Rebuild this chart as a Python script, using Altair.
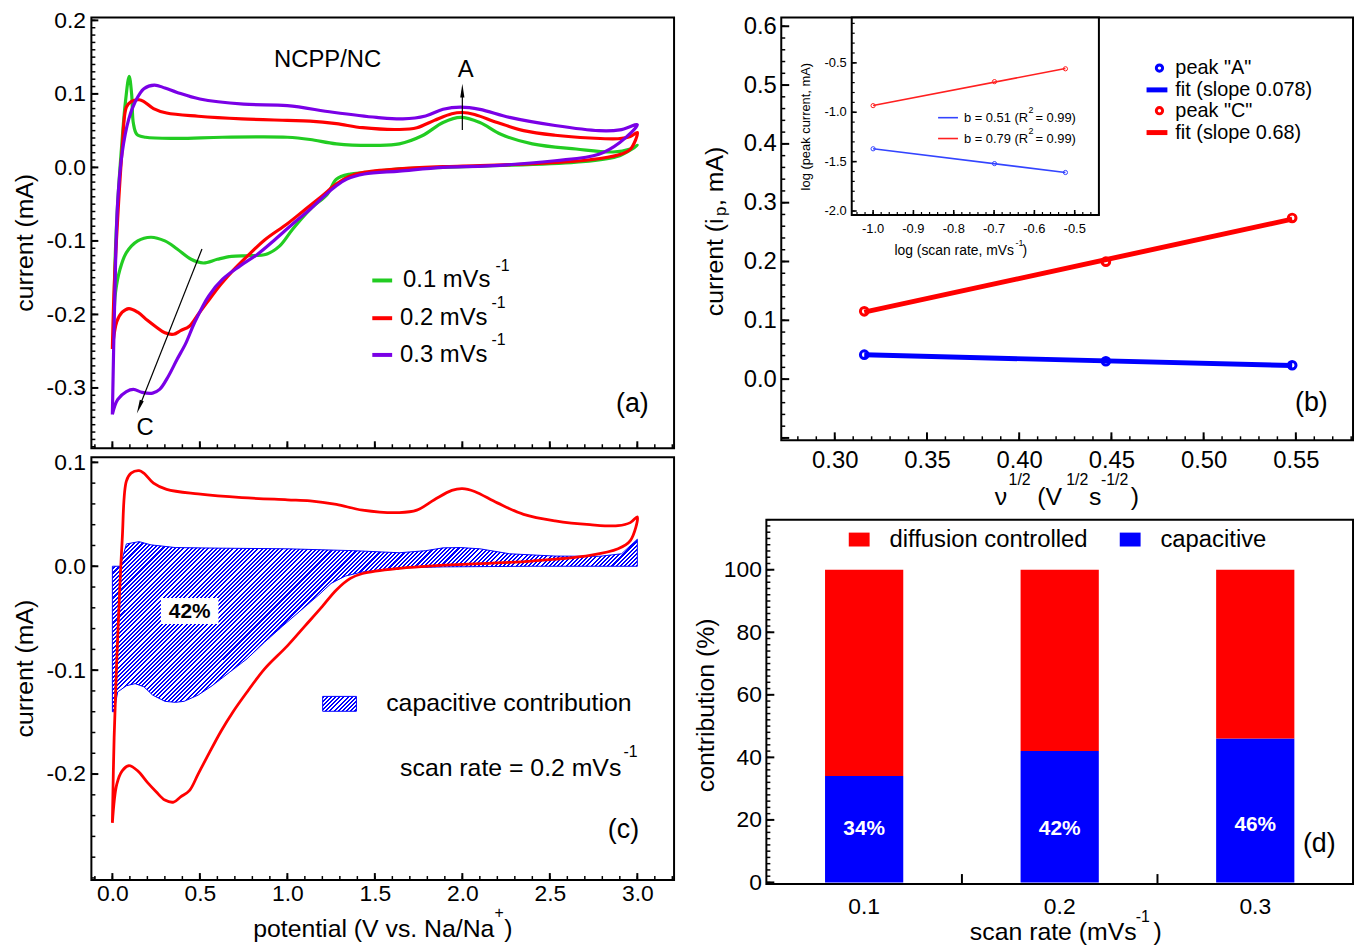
import altair as alt
import pandas as pd
import numpy as np

FONT = "Liberation Sans"

# ---------------- data ----------------
# (a) cyclic voltammograms, potential (V) / current (mA); each list is one closed loop
green_v = [0.01, 0.015, 0.03, 0.05, 0.075, 0.096, 0.11, 0.12, 0.14, 0.19, 0.37, 0.63, 1.0, 1.13, 1.28, 1.51, 1.64, 1.77, 1.89, 1.99, 2.1, 2.22, 2.4, 2.65, 2.86, 2.96, 3.0,
           2.9, 2.65, 2.15, 1.89, 1.64, 1.44, 1.36, 1.28, 1.23, 1.13, 1.03, 0.955, 0.88, 0.78, 0.68, 0.6, 0.52, 0.45, 0.37, 0.3, 0.22, 0.145, 0.08, 0.043, 0.018, 0.01]
green_i = [-0.2, -0.13, -0.05, 0.02, 0.09, 0.124, 0.1, 0.06, 0.045, 0.041, 0.0395, 0.041, 0.041, 0.038, 0.032, 0.030, 0.032, 0.043, 0.061, 0.068, 0.061, 0.045, 0.032, 0.025, 0.021, 0.025, 0.030,
           0.016, 0.007, 0.002, 0.0, -0.002, -0.007, -0.009, -0.016, -0.036, -0.057, -0.084, -0.107, -0.118, -0.12, -0.121, -0.125, -0.13, -0.125, -0.111, -0.1, -0.095, -0.1, -0.116, -0.139, -0.17, -0.2]
red_v = [0.0, 0.01, 0.03, 0.056, 0.08, 0.107, 0.153, 0.18, 0.235, 0.31, 0.49, 0.74, 1.0, 1.13, 1.28, 1.43, 1.64, 1.74, 1.84, 1.94, 2.0, 2.07, 2.2, 2.35, 2.53, 2.73, 2.89, 2.96, 3.0,
         2.96, 2.89, 2.73, 2.4, 1.89, 1.64, 1.43, 1.36, 1.28, 1.2, 1.1, 1.0, 0.87, 0.77, 0.69, 0.62, 0.54, 0.49, 0.44, 0.39, 0.35, 0.30, 0.25, 0.2, 0.145, 0.094, 0.056, 0.025, 0.0]
red_i = [-0.247, -0.165, -0.07, 0.025, 0.082, 0.0896, 0.092, 0.0896, 0.08, 0.074, 0.0696, 0.066, 0.064, 0.063, 0.0595, 0.054, 0.0516, 0.054, 0.064, 0.073, 0.0747, 0.072, 0.061, 0.05, 0.0437, 0.04, 0.039, 0.042, 0.0475,
         0.0247, 0.0168, 0.0104, 0.005, 0.001, -0.002, -0.007, -0.0117, -0.0228, -0.0386, -0.0576, -0.0766, -0.0987, -0.121, -0.14, -0.159, -0.184, -0.2, -0.216, -0.222, -0.227, -0.225, -0.217, -0.208, -0.197, -0.192, -0.197, -0.21, -0.247]
purple_v = [0.0, 0.013, 0.03, 0.056, 0.094, 0.13, 0.18, 0.24, 0.3, 0.37, 0.5, 0.75, 1.0, 1.26, 1.51, 1.66, 1.79, 1.89, 1.99, 2.1, 2.27, 2.53, 2.78, 2.9, 3.0,
            2.9, 2.78, 2.53, 2.15, 1.89, 1.64, 1.44, 1.34, 1.28, 1.21, 1.13, 1.03, 0.93, 0.83, 0.73, 0.63, 0.55, 0.47, 0.42, 0.37, 0.32, 0.27, 0.23, 0.17, 0.12, 0.08, 0.03, 0.0]
purple_i = [-0.336, -0.184, -0.048, 0.02, 0.066, 0.089, 0.107, 0.112, 0.108, 0.102, 0.093, 0.086, 0.084, 0.075, 0.068, 0.066, 0.07, 0.079, 0.082, 0.079, 0.068, 0.057, 0.05, 0.051, 0.058,
            0.034, 0.018, 0.009, 0.002, 0.0, -0.005, -0.009, -0.016, -0.025, -0.039, -0.057, -0.077, -0.098, -0.118, -0.134, -0.152, -0.175, -0.211, -0.239, -0.261, -0.284, -0.302, -0.307, -0.306, -0.302, -0.305, -0.316, -0.336]
# (c) capacitive contribution region at 0.2 mV/s (closed outline)
cap_v = [0.0, 0.045, 0.08, 0.153, 0.22, 0.36, 0.62, 1.0, 1.38, 1.64, 1.79, 1.89, 1.99, 2.1, 2.27, 2.53, 2.78, 2.91, 3.0,
         3.0, 2.4, 1.89, 1.64, 1.43, 1.33, 1.25, 1.18, 1.08, 0.97, 0.87, 0.77, 0.67, 0.57, 0.49, 0.41, 0.36, 0.30, 0.23, 0.18, 0.13, 0.08, 0.03, 0.01, 0.0, 0.0]
cap_i = [0.0, 0.0, 0.0215, 0.0237, 0.0206, 0.018, 0.0174, 0.0168, 0.015, 0.013, 0.015, 0.0177, 0.018, 0.0168, 0.012, 0.0098, 0.0095, 0.012, 0.026,
         0.0, 0.0, -0.0006, -0.0016, -0.0054, -0.0095, -0.0165, -0.0275, -0.042, -0.058, -0.073, -0.089, -0.102, -0.115, -0.124, -0.13, -0.131, -0.13, -0.124, -0.116, -0.113, -0.115, -0.121, -0.14, -0.14, 0.0]
# (b) peak currents
sqrt_rate = [0.316, 0.447, 0.548]
peak_a = [0.0416, 0.0304, 0.0236]
peak_c = [0.1153, 0.1997, 0.274]
# (b) inset: log-log
log_rate = [-1.0, -0.699, -0.523]
log_peak_a = [-1.37, -1.52, -1.61]
log_peak_c = [-0.933, -0.69, -0.56]
# (d) contributions (%)
scan_rates = ["0.1", "0.2", "0.3"]
capacitive = [34, 42, 46]
diffusion = [66, 58, 54]
pct_labels = ["34%", "42%", "46%"]

# ---------------- helpers ----------------
ONE = pd.DataFrame({"k": [0]})
MINUS = "replace(format(datum.value, '{f}'), '\u2212', '-')"


def txt(s, x, y, size=24, align="center", angle=0, weight="normal", color="black", baseline="middle"):
    return alt.Chart(ONE).mark_text(text=s, font=FONT, fontSize=size, align=align, baseline=baseline,
                                    angle=angle, fontWeight=weight, color=color).encode(
        x=alt.value(x), y=alt.value(y))


def hseg(x1, x2, y, color, width):
    return alt.Chart(ONE).mark_rule(color=color, strokeWidth=width).encode(
        x=alt.value(x1), x2=alt.value(x2), y=alt.value(y))


def rng(a, b, step):
    return [round(float(v), 4) for v in np.arange(a, b + step / 2, step)]


def inside(vals, dom):
    return [v for v in vals if dom[0] <= v <= dom[1]]


def yticks(vals, scale, axis, length, width=1.5, x0=0):
    return alt.Chart(pd.DataFrame({"t": vals})).mark_rule(color="black", strokeWidth=width).encode(
        y=alt.Y("t:Q", scale=scale, axis=axis), x=alt.value(x0), x2=alt.value(x0 + length))


def xticks(vals, scale, axis, length, h, width=1.5):
    return alt.Chart(pd.DataFrame({"t": vals})).mark_rule(color="black", strokeWidth=width).encode(
        x=alt.X("t:Q", scale=scale, axis=axis), y=alt.value(h), y2=alt.value(h - length))


def loop(v, i, color, sx, sy, ax, ay, width, interp="catmull-rom"):
    df = pd.DataFrame({"V": v, "I": i, "n": list(range(len(v)))})
    return alt.Chart(df).mark_line(color=color, strokeWidth=width, strokeJoin="round", interpolate=interp).encode(
        x=alt.X("V:Q", scale=sx, axis=ax), y=alt.Y("I:Q", scale=sy, axis=ay), order="n:Q")


def hatch(W, H, period=4.2, duty=0.5, col="#0000ff"):
    r = H / W
    s = (1 + r) / (1 + r * r)
    x2, y2 = s, s * r
    dt = period * x2 / ((x2 * x2 + y2 * y2) * W)
    stops = []
    t = 0.0
    while t < 1.0:
        a = min(t + duty * dt, 1.0)
        b = min(t + dt, 1.0)
        stops += [alt.GradientStop(offset=round(t, 5), color=col), alt.GradientStop(offset=round(a, 5), color=col),
                  alt.GradientStop(offset=round(a, 5), color="white"), alt.GradientStop(offset=round(b, 5), color="white")]
        t += dt
    return alt.LinearGradient(gradient="linear", x1=0, y1=0, x2=round(x2, 4), y2=round(y2, 4), stops=stops)


def plain_axis(orient, **kw):
    base = dict(orient=orient, ticks=False, domain=False, grid=False, title=None)
    base.update(kw)
    return alt.Axis(**base)


GREEN, RED, PURPLE, BLUE = "#22cc22", "#ff0000", "#7a00e6", "#0000ff"
ARROW = "M0,-1L0.3,1L-0.3,1Z"
TICK = 23

# ---------------- panel (a) ----------------
WA, HA = 587, 434
dxa, dya = [-0.12, 3.21], [-0.382, 0.204]
xa = alt.Scale(domain=dxa, nice=False, zero=False)
ya = alt.Scale(domain=dya, nice=False, zero=False)
xa_axis = plain_axis("bottom", labels=False)
ya_axis = plain_axis("left", values=[-0.3, -0.2, -0.1, 0.0, 0.1, 0.2], labelExpr=MINUS.format(f=".1f"),
                     labelFontSize=TICK, labelPadding=6)

arrow_c = alt.Chart(pd.DataFrame({"x": [0.512], "y": [-0.111], "x2": [0.154], "y2": [-0.326]})).mark_rule(
    color="black", strokeWidth=1.2).encode(x=alt.X("x:Q", scale=xa, axis=xa_axis), y=alt.Y("y:Q", scale=ya, axis=ya_axis),
                                           x2="x2:Q", y2="y2:Q")
head_c = alt.Chart(pd.DataFrame({"x": [0.154], "y": [-0.326]})).mark_point(
    shape=ARROW, filled=True, color="black", size=196, angle=200.7, opacity=1).encode(
    x=alt.X("x:Q", scale=xa, axis=xa_axis), y=alt.Y("y:Q", scale=ya, axis=ya_axis))
arrow_a = alt.Chart(pd.DataFrame({"x": [2.0], "y": [0.051], "y2": [0.1045]})).mark_rule(
    color="black", strokeWidth=1.2).encode(x=alt.X("x:Q", scale=xa, axis=xa_axis), y=alt.Y("y:Q", scale=ya, axis=ya_axis),
                                           y2="y2:Q")
head_a = alt.Chart(pd.DataFrame({"x": [2.0], "y": [0.1045]})).mark_point(
    shape=ARROW, filled=True, color="black", size=196, opacity=1).encode(
    x=alt.X("x:Q", scale=xa, axis=xa_axis), y=alt.Y("y:Q", scale=ya, axis=ya_axis))

panel_a = alt.layer(
    xticks(inside(rng(-0.1, 3.2, 0.1), dxa), xa, xa_axis, 4, HA),
    xticks(rng(0, 3, 0.5), xa, xa_axis, 7, HA, 2),
    yticks(inside(rng(-0.38, 0.2, 0.01), dya), ya, ya_axis, 4),
    yticks(rng(-0.3, 0.2, 0.1), ya, ya_axis, 7, 2),
    loop(green_v, green_i, GREEN, xa, ya, xa_axis, ya_axis, 3.2),
    loop(red_v, red_i, RED, xa, ya, xa_axis, ya_axis, 3.2),
    loop(purple_v, purple_i, PURPLE, xa, ya, xa_axis, ya_axis, 3.2),
    arrow_c, head_c, arrow_a, head_a,
    txt("NCPP/NC", 238, 43), txt("A", 377, 53), txt("C", 54, 414), txt("(a)", 545, 389, 27),
    txt("current (mA)", -67, 227, 25, angle=270),
    hseg(283, 303, 265, GREEN, 4), hseg(283, 303, 303, RED, 4), hseg(283, 303, 340, PURPLE, 4),
    txt("0.1 mVs", 314, 265, 24, align="left"), txt("-1", 407, 250, 16, align="left"),
    txt("0.2 mVs", 311, 303, 24, align="left"), txt("-1", 403, 288, 16, align="left"),
    txt("0.3 mVs", 311, 340, 24, align="left"), txt("-1", 403, 325, 16, align="left"),
).properties(width=WA, height=HA)

# ---------------- panel (c) ----------------
WC, HC = 587, 426
dyc = [-0.302, 0.105]
yc = alt.Scale(domain=dyc, nice=False, zero=False)
yc_axis = plain_axis("left", values=[-0.2, -0.1, 0.0, 0.1], labelExpr=MINUS.format(f=".1f"),
                     labelFontSize=TICK, labelPadding=6)
xc_axis = plain_axis("bottom", values=rng(0, 3, 0.5), format=".1f", labelFontSize=TICK, labelPadding=3)

px_per_v = WC / (dxa[1] - dxa[0])
px_per_i = HC / (dyc[1] - dyc[0])
cap_df = pd.DataFrame({"V": cap_v, "I": cap_i, "n": list(range(len(cap_v)))})
cap_region = alt.Chart(cap_df).mark_line(
    color=BLUE, strokeWidth=1, interpolate="linear",
    fill=hatch((max(cap_v) - min(cap_v)) * px_per_v, (max(cap_i) - min(cap_i)) * px_per_i)).encode(
    x=alt.X("V:Q", scale=xa, axis=xc_axis), y=alt.Y("I:Q", scale=yc, axis=yc_axis), order="n:Q")
swatch = alt.Chart(ONE).mark_rect(fill=hatch(34, 15), stroke=BLUE, strokeWidth=1).encode(
    x=alt.value(233), x2=alt.value(267), y=alt.value(241), y2=alt.value(256))
box42 = alt.Chart(ONE).mark_rect(fill="white").encode(
    x=alt.value(70), x2=alt.value(128), y=alt.value(142), y2=alt.value(168))

panel_c = alt.layer(
    xticks(inside(rng(-0.1, 3.2, 0.1), dxa), xa, xc_axis, 4, HC),
    xticks(rng(0, 3, 0.5), xa, xc_axis, 7, HC, 2),
    yticks(inside(rng(-0.3, 0.1, 0.02), dyc), yc, yc_axis, 4),
    yticks(rng(-0.2, 0.1, 0.1), yc, yc_axis, 7, 2),
    cap_region,
    loop(red_v, red_i, RED, xa, yc, xc_axis, yc_axis, 2.8),
    box42, txt("42%", 99, 156, 21, weight="bold"),
    swatch, txt("capacitive contribution", 297, 248, 25, align="left"),
    txt("scan rate = 0.2 mVs", 311, 313, 25, align="left"), txt("-1", 536, 297, 16, align="left"),
    txt("(c)", 536, 376, 27),
    txt("current (mA)", -67, 213, 25, angle=270),
    txt("potential (V vs. Na/Na", 163, 475, 25, align="left"), txt("+", 406, 459, 16, align="left"),
    txt(")", 416, 475, 25, align="left"),
).properties(width=WC, height=HC)

# ---------------- panel (b) ----------------
OFF = 15  # frame of (b) starts 15 px right of the column edge
WB, HB = 591, 426
dxb, dyb = [0.271, 0.581], [-0.104, 0.615]
xb = alt.Scale(domain=dxb, range=[OFF, WB], nice=False, zero=False)
yb = alt.Scale(domain=dyb, nice=False, zero=False)
xb_axis = plain_axis("bottom", values=rng(0.30, 0.55, 0.05), format=".2f", labelFontSize=24, labelPadding=8)
yb_axis = plain_axis("left", values=rng(0.0, 0.6, 0.1), format=".1f", labelFontSize=24, labelPadding=5, offset=-OFF)

b_df = pd.DataFrame({"x": sqrt_rate * 2, "y": peak_a + peak_c, "peak": ["A"] * 3 + ["C"] * 3})


def fit_line(peak, color):
    return alt.Chart(b_df).transform_filter(alt.datum.peak == peak).transform_regression(
        "x", "y", extent=[sqrt_rate[0], sqrt_rate[-1]]).mark_line(color=color, strokeWidth=5).encode(
        x=alt.X("x:Q", scale=xb, axis=xb_axis), y=alt.Y("y:Q", scale=yb, axis=yb_axis))


def peak_pts(peak, color):
    return alt.Chart(b_df).transform_filter(alt.datum.peak == peak).mark_point(
        color=color, filled=False, strokeWidth=3, size=60, opacity=1).encode(
        x=alt.X("x:Q", scale=xb, axis=xb_axis), y=alt.Y("y:Q", scale=yb, axis=yb_axis))


def legend_pt(x, y, color):
    return alt.Chart(ONE).mark_point(color=color, filled=False, strokeWidth=3, size=40, opacity=1).encode(
        x=alt.value(x), y=alt.value(y))


b_frame = alt.Chart(ONE).mark_rect(fillOpacity=0, stroke="black", strokeWidth=2).encode(
    x=alt.value(OFF), x2=alt.value(WB), y=alt.value(0), y2=alt.value(HB))

main_b = alt.layer(
    xticks(inside(rng(0.28, 0.58, 0.01), dxb), xb, xb_axis, 4, HB),
    xticks(rng(0.30, 0.55, 0.05), xb, xb_axis, 8, HB, 2),
    yticks(inside(rng(-0.1, 0.6, 0.02), dyb), yb, yb_axis, 4, x0=OFF),
    yticks(rng(-0.1, 0.6, 0.1), yb, yb_axis, 8, 2, x0=OFF),
    fit_line("A", BLUE), fit_line("C", RED), peak_pts("A", BLUE), peak_pts("C", RED),
    legend_pt(OFF + 381, 51, BLUE), hseg(OFF + 368, OFF + 389, 73, BLUE, 5),
    legend_pt(OFF + 381, 94, RED), hseg(OFF + 368, OFF + 389, 116, RED, 5),
    txt('peak "A"', OFF + 397, 51, 20, align="left"), txt("fit (slope 0.078)", OFF + 397, 73, 20, align="left"),
    txt('peak "C"', OFF + 397, 94, 20, align="left"), txt("fit (slope 0.68)", OFF + 397, 116, 20, align="left"),
    txt("(b)", OFF + 534, 388, 27),
    txt("current (i", OFF - 67, 301, 25, align="left", angle=270),
    txt("p", OFF - 61, 200, 17, align="left", angle=270),
    txt(", mA)", OFF - 67, 190, 25, align="left", angle=270),
    txt("\u03bd", OFF + 215, 483, 25, align="left"), txt("1/2", OFF + 229, 466, 16, align="left"),
    txt("(V", OFF + 258, 483, 25, align="left"), txt("1/2", OFF + 287, 466, 16, align="left"),
    txt("s", OFF + 310, 483, 25, align="left"), txt("-1/2", OFF + 322, 466, 16, align="left"),
    txt(")", OFF + 352, 483, 25, align="left"),
    b_frame,
)

# inset
dxi, dyi = [-1.053, -0.44], [-2.04, -0.04]
IX0, IX1, IH = OFF + 71, OFF + 320, 199
xi = alt.Scale(domain=dxi, range=[IX0, IX1], nice=False, zero=False)
yi = alt.Scale(domain=dyi, range=[IH, 0], nice=False, zero=False)
i_df = pd.DataFrame({"x": log_rate * 2, "y": log_peak_a + log_peak_c, "peak": ["A"] * 3 + ["C"] * 3})
inset_frame = alt.Chart(ONE).mark_rect(fill="white", stroke="black", strokeWidth=2).encode(
    x=alt.value(IX0), x2=alt.value(IX1), y=alt.value(0), y2=alt.value(IH))


def i_xticks(vals, length, width):
    return alt.Chart(pd.DataFrame({"t": vals})).mark_rule(color="black", strokeWidth=width).encode(
        x=alt.X("t:Q", scale=xi, axis=None), y=alt.value(IH), y2=alt.value(IH - length))


def i_yticks(vals, length, width):
    return alt.Chart(pd.DataFrame({"t": vals})).mark_rule(color="black", strokeWidth=width).encode(
        y=alt.Y("t:Q", scale=yi, axis=None), x=alt.value(IX0), x2=alt.value(IX0 + length))


def i_fit(peak, color):
    return alt.Chart(i_df).transform_filter(alt.datum.peak == peak).transform_regression(
        "x", "y", extent=[log_rate[0], log_rate[-1]]).mark_line(color=color, strokeWidth=1.6).encode(
        x=alt.X("x:Q", scale=xi, axis=None), y=alt.Y("y:Q", scale=yi, axis=None))


def i_pts(peak, color):
    return alt.Chart(i_df).transform_filter(alt.datum.peak == peak).mark_point(
        color=color, filled=False, strokeWidth=1, size=18, opacity=1).encode(
        x=alt.X("x:Q", scale=xi, axis=None), y=alt.Y("y:Q", scale=yi, axis=None))


ixv = rng(-1.0, -0.5, 0.1)
iyv = rng(-2.0, -0.5, 0.5)
i_xlab = alt.Chart(pd.DataFrame({"t": ixv, "lab": [f"{v:.1f}" for v in ixv]})).mark_text(
    font=FONT, fontSize=13, baseline="middle").encode(
    x=alt.X("t:Q", scale=xi, axis=None), y=alt.value(IH + 14), text="lab:N")
i_ylab = alt.Chart(pd.DataFrame({"t": iyv, "lab": [f"{v:.1f}" for v in iyv]})).mark_text(
    font=FONT, fontSize=13, baseline="middle", align="right").encode(
    y=alt.Y("t:Q", scale=yi, axis=None), x=alt.value(IX0 - 5), text="lab:N")

inset = alt.layer(
    inset_frame,
    i_xticks(inside(rng(-1.04, -0.44, 0.02), dxi), 3, 1.2), i_xticks(ixv, 5, 1.6),
    i_yticks(inside(rng(-2.0, -0.1, 0.1), dyi), 3, 1.2), i_yticks(iyv, 5, 1.6),
    i_fit("A", "#3344ff"), i_fit("C", "#ff2020"), i_pts("A", "#3344ff"), i_pts("C", "#ff2020"),
    i_xlab, i_ylab,
    hseg(OFF + 158, OFF + 178, 101, "#3344ff", 1.6), hseg(OFF + 158, OFF + 178, 122, "#ff2020", 1.6),
    txt("b = 0.51 (R", OFF + 184, 101, 13, align="left"), txt("2", OFF + 249, 93, 9, align="left"),
    txt("= 0.99)", OFF + 256, 101, 13, align="left"),
    txt("b = 0.79 (R", OFF + 184, 122, 13, align="left"), txt("2", OFF + 249, 114, 9, align="left"),
    txt("= 0.99)", OFF + 256, 122, 13, align="left"),
    txt("log (scan rate, mVs", OFF + 114, 235, 14, align="left"), txt("-1", OFF + 236, 227, 9, align="left"),
    txt(")", OFF + 243, 235, 14, align="left"),
    txt("log (peak current, mA)", OFF + 25, 110, 13, angle=270),
)

panel_b = alt.layer(main_b, inset).resolve_scale(x="independent", y="independent").properties(
    width=WB, height=HB, view=alt.ViewBackground(strokeOpacity=0))

# ---------------- panel (d) ----------------
WD, HD = 591, 367
dyd = [-0.5, 116]
yd = alt.Scale(domain=dyd, nice=False, zero=False)
xd = alt.Scale(domain=scan_rates, paddingInner=0.6, paddingOuter=0.3)
xd_axis = plain_axis("bottom", labelAngle=0, labelFontSize=TICK, labelPadding=12)
yd_axis = plain_axis("left", values=rng(0, 100, 20), format="d", labelFontSize=TICK, labelPadding=5)
d_df = pd.DataFrame({"rate": scan_rates * 2, "part": ["capacitive"] * 3 + ["diffusion controlled"] * 3,
                     "val": capacitive + diffusion, "ord": [0] * 3 + [1] * 3})
bars = alt.Chart(d_df).mark_bar().encode(
    x=alt.X("rate:N", scale=xd, sort=scan_rates, axis=xd_axis),
    y=alt.Y("val:Q", stack="zero", scale=yd, axis=yd_axis),
    color=alt.Color("part:N", scale=alt.Scale(domain=["capacitive", "diffusion controlled"], range=[BLUE, RED]),
                    legend=None),
    order=alt.Order("ord:Q"))
bar_labels = alt.Chart(pd.DataFrame({"rate": scan_rates, "lab": pct_labels, "pos": [17, 17, 18.5]})).mark_text(
    font=FONT, fontSize=21, fontWeight="bold", color="white", baseline="middle").encode(
    x=alt.X("rate:N", scale=xd, sort=scan_rates, axis=xd_axis), y=alt.Y("pos:Q", scale=yd, axis=yd_axis),
    text="lab:N")
band_ticks = alt.Chart(pd.DataFrame({"rate": scan_rates[:2]})).mark_rule(
    color="black", strokeWidth=2, xOffset=WD / 6).encode(
    x=alt.X("rate:N", scale=xd, sort=scan_rates, axis=xd_axis), y=alt.value(HD), y2=alt.value(HD - 10))

panel_d = alt.layer(
    yticks(inside(rng(0, 116, 2), dyd), yd, yd_axis, 4),
    yticks(rng(0, 100, 20), yd, yd_axis, 8, 2),
    bars, bar_labels, band_ticks,
    alt.Chart(ONE).mark_rect(color=RED).encode(x=alt.value(83), x2=alt.value(104), y=alt.value(13), y2=alt.value(27)),
    alt.Chart(ONE).mark_rect(color=BLUE).encode(x=alt.value(356), x2=alt.value(377), y=alt.value(13), y2=alt.value(27)),
    txt("diffusion controlled", 124, 20, 24, align="left"), txt("capacitive", 397, 20, 24, align="left"),
    txt("(d)", 557, 327, 27),
    txt("contribution (%)", -61, 187, 25, angle=270),
    txt("scan rate (mVs", 205, 415, 25, align="left"), txt("-1", 372, 400, 16, align="left"),
    txt(")", 390, 415, 25, align="left"),
).properties(width=WD, height=HD)

# ---------------- layout ----------------
left_col = alt.vconcat(panel_a, panel_c, spacing=9, bounds="flush")
right_col = alt.vconcat(panel_b, panel_d, spacing=80, bounds="flush")

chart = alt.hconcat(left_col, right_col, spacing=18).properties(
    padding={"left": 4, "top": -4, "right": 2, "bottom": 2}
).configure_view(stroke="black", strokeWidth=2).configure_axis(labelFont=FONT, labelColor="black")

chart.save("out.html", embed_options={"renderer": "svg", "actions": False})
